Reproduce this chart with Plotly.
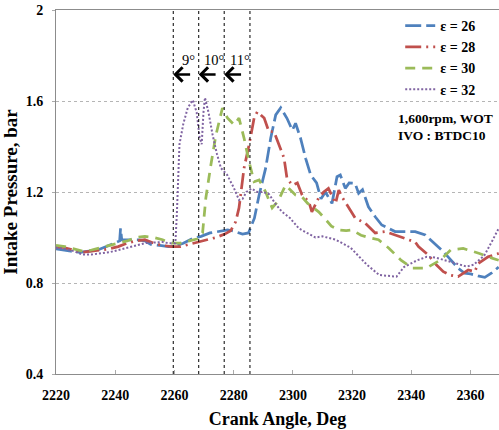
import plotly.graph_objects as go

# Intake pressure traces (crank angle in deg, pressure in bar) for each compression ratio
ca_26 = [2220, 2222, 2225, 2228, 2231, 2234, 2237, 2240, 2241.5, 2241.8, 2242.2, 2245, 2248, 2250,
         2252, 2255, 2258, 2260, 2263, 2266, 2269, 2272, 2275, 2278, 2280, 2283, 2285, 2287,
         2288.6, 2290.8, 2292.5, 2294.2, 2295.9, 2298, 2299.8, 2300.9, 2302.6, 2304.3, 2306,
         2308, 2309.5, 2311, 2313.2, 2314.9, 2316, 2317.7, 2319, 2321, 2322.2, 2323.5, 2325.5,
         2327.8, 2330, 2332.3, 2334.5, 2337.9, 2341.3, 2344.7, 2347.4, 2350.2, 2352.4, 2355.8,
         2358, 2360, 2362.5, 2364.8, 2367, 2369.5]
p_26 = [0.95, 0.945, 0.94, 0.935, 0.94, 0.945, 0.96, 0.975, 0.985, 1.04, 0.99, 0.99, 0.99, 0.985,
        0.97, 0.965, 0.96, 0.962, 0.975, 0.995, 1.005, 1.02, 1.025, 1.033, 1.028, 1.015, 1.02, 1.085,
        1.187, 1.305, 1.436, 1.539, 1.57, 1.524, 1.472, 1.502, 1.436, 1.348, 1.275,
        1.24, 1.17, 1.2, 1.15, 1.267, 1.275, 1.216, 1.24, 1.238, 1.194, 1.21, 1.135,
        1.091, 1.055, 1.04, 1.026, 1.026, 1.026, 1.011, 0.98, 0.945, 0.915, 0.865,
        0.843, 0.84, 0.831, 0.825, 0.843, 0.87]

ca_28 = [2220, 2223, 2226, 2229, 2232, 2235, 2238, 2241, 2244, 2247, 2250, 2253, 2256, 2259, 2262,
         2265, 2268, 2271, 2274, 2277, 2279, 2280.7, 2281.8, 2283.5, 2285.2, 2286.9, 2288, 2290.3,
         2291.9, 2293.6, 2295.3, 2297, 2298, 2299.8, 2301.5, 2303.1, 2305.4, 2306.4, 2308.7,
         2310.4, 2312, 2314.4, 2315.5, 2316.5, 2318.3, 2321, 2324.4, 2327.8, 2331.2, 2334.5,
         2338, 2341.3, 2342.4, 2345.7, 2348.5, 2350.8, 2353, 2355.8, 2359.2, 2361.4, 2362.6,
         2365.9, 2369.5]
p_28 = [0.96, 0.955, 0.945, 0.935, 0.94, 0.945, 0.95, 0.96, 0.975, 0.985, 0.99, 0.975, 0.965, 0.96, 0.96,
        0.97, 0.98, 0.99, 1.0, 1.015, 1.03, 1.07, 1.13, 1.305, 1.407, 1.525, 1.553, 1.525,
        1.465, 1.465, 1.407, 1.35, 1.26, 1.23, 1.24, 1.187, 1.157, 1.113, 1.174,
        1.2, 1.216, 1.15, 1.209, 1.18, 1.143, 1.086, 1.063, 1.02, 1.026, 1.011,
        0.995, 0.98, 0.96, 0.923, 0.879, 0.85, 0.835, 0.828, 0.857, 0.85, 0.886,
        0.915, 0.93]

ca_30 = [2220, 2223, 2226, 2229, 2232, 2235, 2238, 2241, 2244, 2247, 2250, 2253, 2256, 2259, 2262,
         2265, 2268, 2269.5, 2270.6, 2272.3, 2274, 2276.2, 2277.9, 2280.2, 2281.8, 2283.5, 2285.2,
         2286.9, 2288.6, 2290.8, 2293, 2295, 2297.5, 2300.9, 2303, 2305, 2308.7, 2311, 2313,
         2315.5, 2318, 2320, 2323, 2325.5, 2328.9, 2332.5, 2336.5, 2340.5, 2345, 2349.7, 2353.3,
         2357.5, 2363, 2367.5, 2369.5]
p_30 = [0.965, 0.96, 0.95, 0.94, 0.945, 0.955, 0.965, 0.975, 0.985, 1.0, 1.005, 1.0, 0.99, 0.975, 0.975,
        0.985, 0.995, 1.02, 1.174, 1.319, 1.45, 1.569, 1.525, 1.495, 1.525, 1.437, 1.333,
        1.245, 1.253, 1.2, 1.13, 1.16, 1.23, 1.187, 1.18, 1.15, 1.113, 1.08, 1.05,
        1.033, 1.03, 1.033, 1.01, 1.0, 0.99, 0.952, 0.9, 0.865, 0.865, 0.9, 0.945,
        0.952, 0.93, 0.908, 0.9]

ca_32 = [2220, 2223, 2226, 2229, 2232, 2235, 2238, 2241, 2244, 2247, 2250, 2253, 2256, 2258, 2260.3,
         2260.8, 2261.7, 2263, 2264.5, 2266.2, 2267.5, 2268.5, 2269.2, 2269.8, 2270.3, 2271.5,
         2272.9, 2274.3, 2275.7, 2277.8, 2280, 2281.8, 2283, 2284.3, 2286, 2288, 2290, 2292,
         2294, 2296.3, 2299, 2302, 2304.7, 2307.6, 2310, 2314.5, 2319.5, 2325, 2329.2, 2335,
         2337.5, 2342, 2345.2, 2348, 2353.3, 2358.7, 2361, 2364.6, 2367.5, 2369.5]
p_32 = [0.955, 0.95, 0.94, 0.925, 0.925, 0.93, 0.935, 0.945, 0.955, 0.965, 0.975, 0.978, 0.98, 0.975, 0.975,
        1.1, 1.41, 1.5, 1.57, 1.604, 1.55, 1.44, 1.41, 1.55, 1.615, 1.55,
        1.45, 1.37, 1.305, 1.275, 1.22, 1.165, 1.17, 1.2, 1.215, 1.2, 1.2, 1.19,
        1.15, 1.113, 1.086, 1.04, 1.02, 1.0, 1.005, 0.99, 0.955, 0.88, 0.835, 0.828,
        0.87, 0.9, 0.915, 0.912, 0.893, 0.872, 0.88, 0.92, 0.99, 1.04]

series_names = ["ε = 26", "ε = 28", "ε = 30", "ε = 32"]
series_colors = ["#4F81BD", "#C0504D", "#9BBB59", "#8064A2"]
series_dashes = ["16px,5px", "16px,5px,2px,5px", "10px,7px", "2px,2px"]
series_widths = [2.75, 2.75, 2.75, 2]

# Ignition timing guide lines and their spacing labels
guide_angles = [2259.6, 2268.2, 2276.8, 2285.5]
gap_labels = ["9°", "10°", "11°"]

x_ticks = [2220, 2240, 2260, 2280, 2300, 2320, 2340, 2360]
y_ticks = [0.4, 0.8, 1.2, 1.6, 2.0]

SERIF = "Liberation Serif, Times New Roman, serif"

fig = go.Figure()
for xs, ys, name, color, dash, w in zip(
        [ca_26, ca_28, ca_30, ca_32], [p_26, p_28, p_30, p_32],
        series_names, series_colors, series_dashes, series_widths):
    fig.add_trace(go.Scatter(x=xs, y=ys, mode="lines", name=name,
                             line=dict(color=color, dash=dash, width=w)))

shapes = []
for a in guide_angles:
    shapes.append(dict(type="line", xref="x", yref="paper", x0=a, x1=a, y0=0, y1=1,
                       line=dict(color="black", width=1, dash="3px,3px")))

annotations = []
arrow_y = 1.717
for i, lab in enumerate(gap_labels):
    tip = guide_angles[i]
    annotations.append(dict(x=tip, y=arrow_y, ax=tip + 6.2, ay=arrow_y, xref="x", yref="y",
                            axref="x", ayref="y", text="", showarrow=True,
                            arrowhead=4, arrowsize=1.1, arrowwidth=2.5, arrowcolor="black"))
    annotations.append(dict(x=tip + 5.2, y=1.78, xref="x", yref="y", text=lab, showarrow=False,
                            font=dict(family=SERIF, size=14.5, color="black")))

annotations.append(dict(x=0.7675, y=0.7025, xref="paper", yref="paper", xanchor="left",
                        yanchor="middle", text="1,600rpm, WOT", showarrow=False,
                        font=dict(family=SERIF, size=13.5, color="black", weight="bold")))
annotations.append(dict(x=0.7675, y=0.654, xref="paper", yref="paper", xanchor="left",
                        yanchor="middle", text="IVO : BTDC10", showarrow=False,
                        font=dict(family=SERIF, size=13.5, color="black", weight="bold")))

fig.update_layout(
    width=499, height=430,
    margin=dict(l=56, r=0, t=10, b=56),
    paper_bgcolor="white", plot_bgcolor="white",
    font=dict(family=SERIF, color="black"),
    shapes=shapes, annotations=annotations,
    legend=dict(x=0.777, y=1.0, xanchor="left", yanchor="top", bgcolor="rgba(0,0,0,0)",
                font=dict(family=SERIF, size=14, color="black", weight="bold"),
                tracegroupgap=0),
    xaxis=dict(range=[2220, 2369.6], tickvals=x_ticks, showgrid=False, zeroline=False,
               showline=True, linecolor="#8c8c8c", linewidth=1.3, mirror=True,
               ticks="inside", ticklen=4, tickcolor="#aaaaaa", ticklabelstandoff=8,
               tickfont=dict(family=SERIF, size=14, color="black", weight="bold"),
               title=dict(text="Crank Angle, Deg", standoff=10,
                          font=dict(family=SERIF, size=18, color="black", weight="bold"))),
    yaxis=dict(range=[0.4, 2.0], tickvals=y_ticks, ticktext=["0.4", "0.8", "1.2", "1.6", "2"],
               showgrid=True, gridcolor="#b5b5b5", griddash="dot", gridwidth=1, zeroline=False,
               showline=True, linecolor="#8c8c8c", linewidth=1,
               ticks="outside", ticklen=3, tickcolor="#aaaaaa", ticklabelstandoff=6,
               tickfont=dict(family=SERIF, size=14, color="black", weight="bold"),
               title=dict(text="Intake Pressure, bar", standoff=8,
                          font=dict(family=SERIF, size=19, color="black", weight="bold"))),
)

fig.write_html("out.html")
